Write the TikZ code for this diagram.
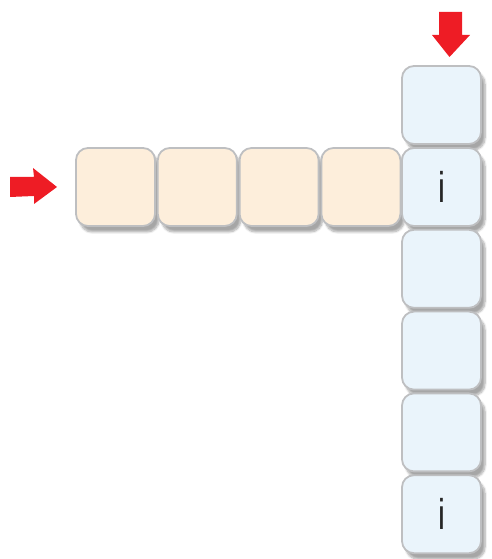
\documentclass[tikz,border=0pt]{standalone}
\usepackage{fontspec}
\setmainfont{Liberation Sans}
\usetikzlibrary{shadows.blur}
\definecolor{boxorange}{HTML}{FDEEDB}
\definecolor{boxblue}{HTML}{EAF4FB}
\definecolor{boxedge}{HTML}{BEBFC1}
\definecolor{arrowred}{HTML}{EE1C25}
\newcommand{\thini}{\scalebox{0.72}[1]{i}}
\tikzset{
  cell/.style={draw=boxedge, line width=1.8pt, rounded corners=12pt,
    minimum width=79pt, minimum height=78pt, inner sep=0pt,
    font=\fontsize{43}{43}\selectfont, text=black!85,
    blur shadow={shadow xshift=4pt, shadow yshift=-6pt, shadow blur steps=8, shadow opacity=35}},
  ocell/.style={cell, fill=boxorange},
  bcell/.style={cell, fill=boxblue},
  redarrow/.style={fill=arrowred, draw=none}
}
\begin{document}
\begin{tikzpicture}[x=1pt,y=1pt]
\useasboundingbox (0,0) rectangle (492,559);
% orange row
\node[ocell] (o1) at (115.5,372) {};
\node[ocell] (o2) at (197.3,372) {};
\node[ocell] (o3) at (279.1,372) {};
\node[ocell] (o4) at (360.9,372) {};
% blue column
\node[bcell] (b1) at (441.5,454) {};
\node[bcell] (b2) at (441.5,372) {\thini};
\node[bcell] (b3) at (441.5,290.2) {};
\node[bcell] (b4) at (441.5,208.4) {};
\node[bcell] (b5) at (441.5,126.6) {};
\node[bcell] (b6) at (441.5,44.8) {\thini};
% left arrow
\fill[redarrow] (10,382) -- (34,382) -- (33,391) -- (57,372) -- (34,355) -- (34,363) -- (10,362) -- cycle;
% top arrow
\fill[redarrow] (439,547) -- (462,547) -- (462,524) -- (470,524) -- (449.5,502) -- (432,524) -- (439,524) -- cycle;
\end{tikzpicture}
\end{document}
